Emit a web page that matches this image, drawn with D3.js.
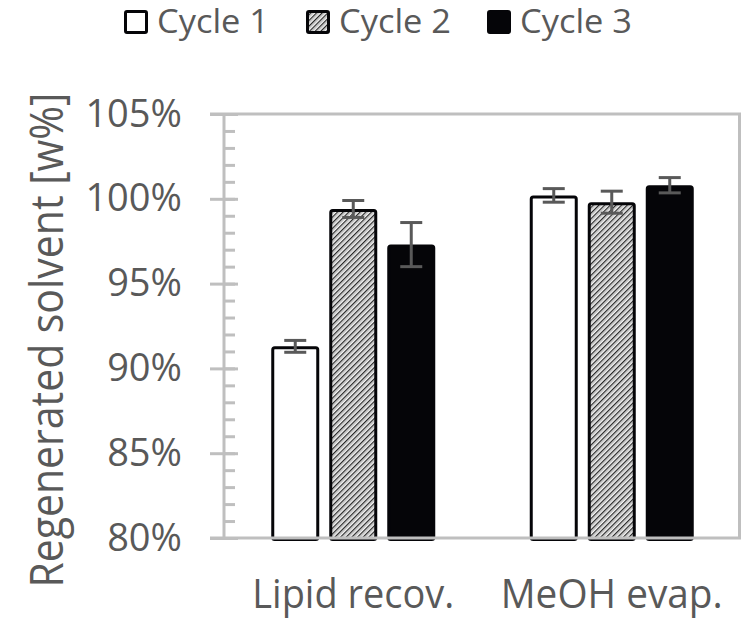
<!DOCTYPE html>
<html>
<head>
<meta charset="utf-8">
<script src="https://cdn.jsdelivr.net/npm/d3@7"></script>
<style>
  body { margin: 0; background: #fff; }
  text { font-family: "Open Sans", sans-serif; fill: #595959; }
</style>
</head>
<body>
<div id="chart"></div>
<script>
var groups = ["Lipid recov.", "MeOH evap."],
    cycles = ["Cycle 1", "Cycle 2", "Cycle 3"],
    cycle1 = [91.3, 100.2],
    cycle2 = [99.4, 99.8],
    cycle3 = [97.3, 100.8],
    err1 = [0.35, 0.4],
    err2 = [0.5, 0.65],
    err3 = [1.3, 0.45],
    yTicks = [80, 85, 90, 95, 100, 105];

var series = [cycle1, cycle2, cycle3],
    errs = [err1, err2, err3];

var width = 743, height = 620,
    margin = {top: 114, right: 2, bottom: 82, left: 224};

var svg = d3.select("#chart").append("svg")
  .attr("width", width)
  .attr("height", height);

var defs = svg.append("defs");
var pat = defs.append("pattern")
  .attr("id", "hatch")
  .attr("patternUnits", "userSpaceOnUse")
  .attr("width", 4)
  .attr("height", 4)
  .attr("patternTransform", "rotate(45)");
pat.append("rect").attr("width", 4).attr("height", 4).attr("fill", "#fff");
pat.append("line").attr("x1", 0.7).attr("x2", 0.7).attr("y1", 0).attr("y2", 4)
  .attr("stroke", "#111").attr("stroke-width", 1.2);
pat.append("line").attr("x1", 2.7).attr("x2", 2.7).attr("y1", 0).attr("y2", 4)
  .attr("stroke", "#b0b0b0").attr("stroke-width", 0.8);

var fills = ["#fff", "url(#hatch)", "#050508"];

var x0 = d3.scaleBand()
  .domain(groups)
  .range([margin.left, width - margin.right]);

var y = d3.scaleLinear()
  .domain([80, 105])
  .range([height - margin.bottom, margin.top]);

var data = [];
groups.forEach(function(g, gi) {
  cycles.forEach(function(c, ci) {
    data.push({group: g, cycle: c, ci: ci, value: series[ci][gi], err: errs[ci][gi]});
  });
});

// bars
var bars = svg.append("g");
bars.selectAll("rect")
  .data(data)
  .enter().append("rect")
  .each(function(d) {
    var cx = x0(d.group) + x0.bandwidth() / 2;
    var x1 = d3.scaleBand().domain(cycles).range([cx - 82, cx + 82]).paddingInner(10 / 58);
    d.x = x1(d.cycle);
    d.w = x1.bandwidth();
  })
  .attr("x", function(d) { return d.x + 1.5; })
  .attr("width", function(d) { return d.w - 3; })
  .attr("y", function(d) { return y(d.value) + 1.5; })
  .attr("height", function(d) { return y(80) - y(d.value); })
  .attr("rx", 2)
  .attr("fill", function(d) { return fills[d.ci]; })
  .attr("stroke", "#050508")
  .attr("stroke-width", 3);

// error bars
var eb = svg.append("g").attr("stroke", "#595959").attr("stroke-width", 3);
data.forEach(function(d) {
  var cx = d.x + d.w / 2;
  eb.append("line").attr("x1", cx).attr("x2", cx)
    .attr("y1", y(d.value + d.err)).attr("y2", y(d.value - d.err));
  [d.value + d.err, d.value - d.err].forEach(function(v) {
    eb.append("line").attr("x1", cx - 11).attr("x2", cx + 11)
      .attr("y1", y(v)).attr("y2", y(v));
  });
});

// frame
var frame = svg.append("g").attr("stroke", "#bfbfbf").attr("stroke-width", 3).attr("fill", "none");
frame.append("line").attr("x1", 210).attr("x2", width - margin.right).attr("y1", y(105)).attr("y2", y(105));
frame.append("line").attr("x1", 210).attr("x2", width - margin.right).attr("y1", y(80)).attr("y2", y(80));
frame.append("line").attr("x1", width - margin.right - 1.5).attr("x2", width - margin.right - 1.5)
  .attr("y1", y(105)).attr("y2", y(80));

// y axis with major and minor ticks
var yAxisMinor = d3.axisRight(y).tickValues(d3.range(80, 105.1, 1)).tickSize(11).tickFormat("");
var gMinor = svg.append("g").attr("transform", "translate(" + margin.left + ",0)").call(yAxisMinor);
gMinor.select(".domain").remove();
gMinor.selectAll("line").attr("stroke", "#bfbfbf").attr("stroke-width", 3);

var yAxis = d3.axisLeft(y).tickValues(yTicks).tickSize(14).tickPadding(28)
  .tickFormat(function(d) { return d + "%"; });
var gy = svg.append("g").attr("transform", "translate(" + margin.left + ",0)").call(yAxis);
gy.select(".domain").attr("stroke", "#bfbfbf").attr("stroke-width", 3).attr("d",
  "M0," + y(105) + "V" + y(80));
gy.selectAll(".tick line").attr("stroke", "#bfbfbf").attr("stroke-width", 3).attr("x2", 14).attr("x1", -14);
gy.selectAll(".tick text")
  .attr("fill", "#595959")
  .style("font-family", "'Open Sans', sans-serif")
  .style("font-size", "38px")
  .attr("x", -42);

// x labels
svg.append("g").selectAll("text")
  .data(groups)
  .enter().append("text")
  .attr("x", function(d) { return x0(d) + x0.bandwidth() / 2; })
  .attr("y", 608)
  .attr("text-anchor", "middle")
  .style("font-size", "40px")
  .attr("textLength", function(d, i) { return i === 0 ? 202 : 222; })
  .attr("lengthAdjust", "spacingAndGlyphs")
  .text(function(d) { return d; });

// y title
svg.append("text")
  .attr("transform", "translate(63,340) rotate(-90)")
  .attr("text-anchor", "middle")
  .style("font-size", "46px")
  .attr("textLength", 495)
  .attr("lengthAdjust", "spacingAndGlyphs")
  .text("Regenerated solvent [w%]");

// legend
var legendX = [124, 306, 487];
var leg = svg.append("g").selectAll("g")
  .data(cycles)
  .enter().append("g")
  .attr("transform", function(d, i) { return "translate(" + legendX[i] + ",0)"; });
leg.append("rect")
  .attr("x", 1.5).attr("y", 11.5)
  .attr("width", 21).attr("height", 21)
  .attr("rx", 1.5)
  .attr("fill", function(d, i) { return fills[i]; })
  .attr("stroke", "#050508")
  .attr("stroke-width", 3);
leg.append("text")
  .attr("x", 33)
  .attr("y", 33)
  .style("font-size", "32px")
  .attr("textLength", 112)
  .attr("lengthAdjust", "spacingAndGlyphs")
  .text(function(d) { return d; });
</script>
</body>
</html>
